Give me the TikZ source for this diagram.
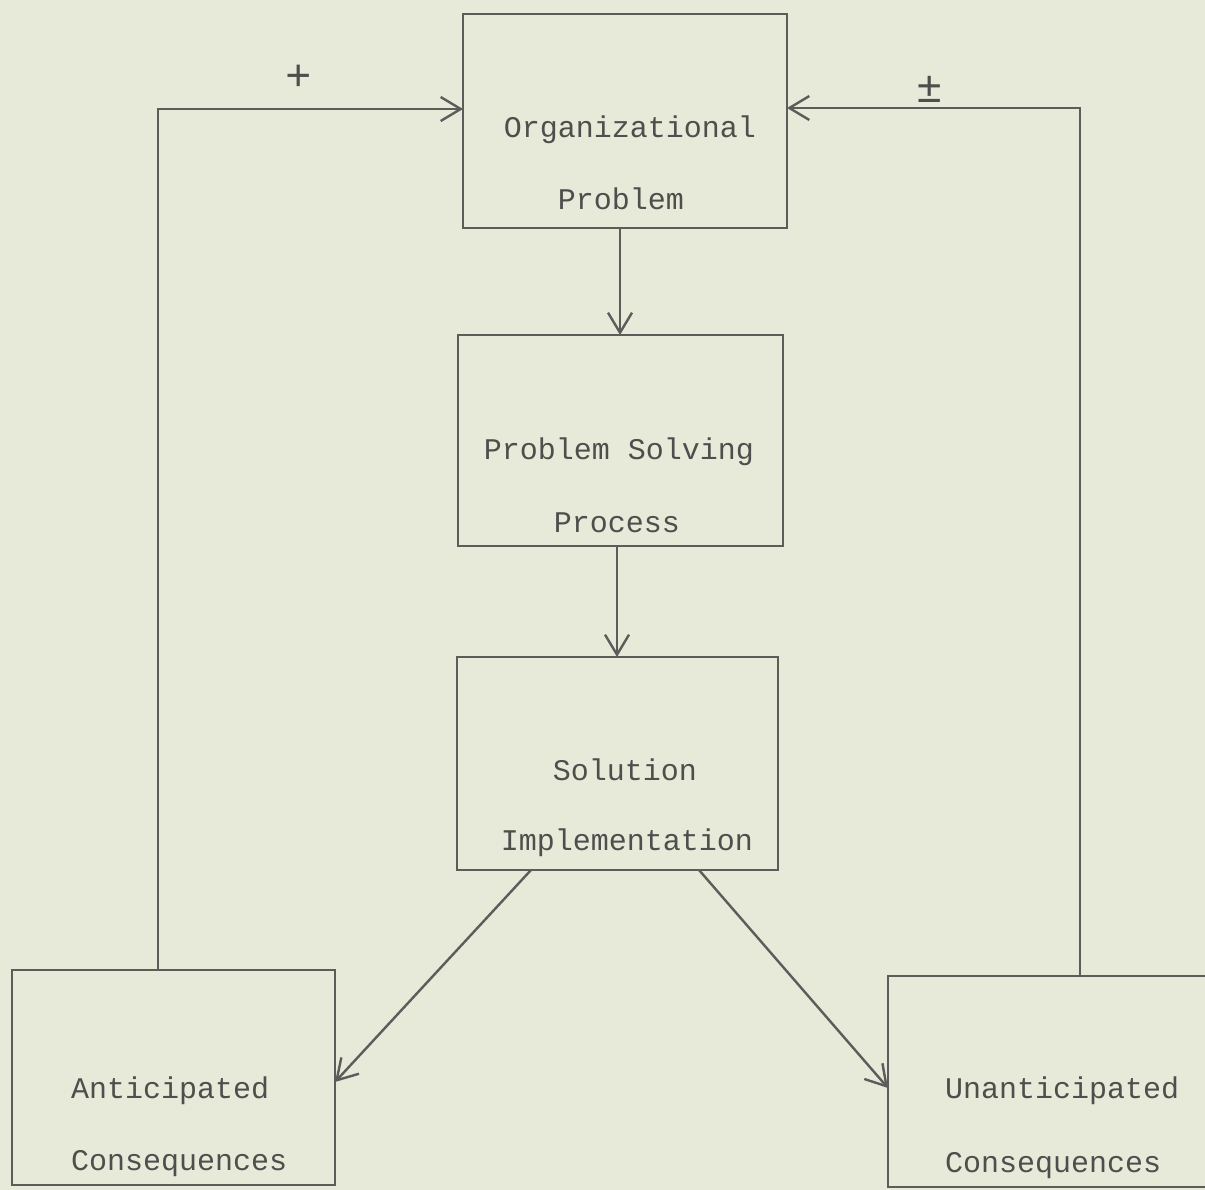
\documentclass[tikz,border=0pt]{standalone}
\usepackage{fontspec}
\setmonofont{Liberation Mono}
\usetikzlibrary{arrows.meta}
\definecolor{bgc}{RGB}{231,233,217}
\definecolor{ink}{RGB}{92,92,90}
\definecolor{txt}{RGB}{78,78,76}
\begin{document}
\begin{tikzpicture}[x=1pt,y=-1pt,
  boxstyle/.style={draw=ink,line width=2.4pt,rectangle,inner sep=0pt,outer sep=0pt},
  lbl/.style={text=txt,font=\ttfamily\fontsize{30}{36}\selectfont,inner sep=0pt},
  sign/.style={text=txt,font=\ttfamily\fontsize{44}{50}\selectfont,inner sep=0pt},
  conn/.style={draw=ink,line width=2.4pt},
  arr/.style={conn,-{Straight Barb[length=20pt,width=24pt,line width=2.4pt]}}]
\fill[bgc] (0,0) rectangle (1205,1190);
\useasboundingbox (0,0) rectangle (1205,1190);
\clip (0,0) rectangle (1205,1190);
% boxes
\node[boxstyle,minimum width=324pt,minimum height=214pt] (b1) at (625,121) {};
\node[boxstyle,minimum width=325pt,minimum height=211pt] (b2) at (620.5,440.5) {};
\node[boxstyle,minimum width=321pt,minimum height=213pt] (b3) at (617.5,763.5) {};
\node[boxstyle,minimum width=323pt,minimum height=215pt] (b4) at (173.5,1077.5) {};
\node[boxstyle,minimum width=327pt,minimum height=211pt] (b5) at (1051.5,1081.5) {};
% texts
\node[lbl,anchor=base] (t1a) at (630,138) {Organizational};
\node[lbl,anchor=base] (t1b) at (621,210) {Problem};
\node[lbl,anchor=base] (t2a) at (619,459) {Problem Solving};
\node[lbl,anchor=base] (t2b) at (617,532) {Process};
\node[lbl,anchor=base] (t3a) at (625,780) {Solution};
\node[lbl,anchor=base] (t3b) at (627,850) {Implementation};
\node[lbl,anchor=base west] (t4a) at (71,1098) {Anticipated};
\node[lbl,anchor=base west] (t4b) at (71,1170) {Consequences};
\node[lbl,anchor=base west] (t5a) at (945,1098) {Unanticipated};
\node[lbl,anchor=base west] (t5b) at (945,1172) {Consequences};
% signs
\node[sign] (plus) at (299,78) {+};
\node[sign] (pm) at (930,89) {±};
% helper coordinates
\coordinate (c12) at (620,0);
\coordinate (c23) at (617,0);
\coordinate (lt) at (158,109);
\coordinate (rt) at (1080,108);
\coordinate (d1s) at (531,0);
\coordinate (d1e) at (0,1082);
\coordinate (d2s) at (699,0);
\coordinate (d2e) at (0,1088);
% connectors
\draw[arr] (b1.south -| c12) -- (b2.north -| c12);
\draw[arr] (b2.south -| c23) -- (b3.north -| c23);
\draw[arr] (b4.north -| lt) |- (b1.west |- lt);
\draw[arr] (b5.north -| rt) |- (b1.east |- rt);
\draw[arr] (b3.south -| d1s) -- (b4.east |- d1e);
\draw[arr] (b3.south -| d2s) -- (b5.west |- d2e);
\end{tikzpicture}
\end{document}
